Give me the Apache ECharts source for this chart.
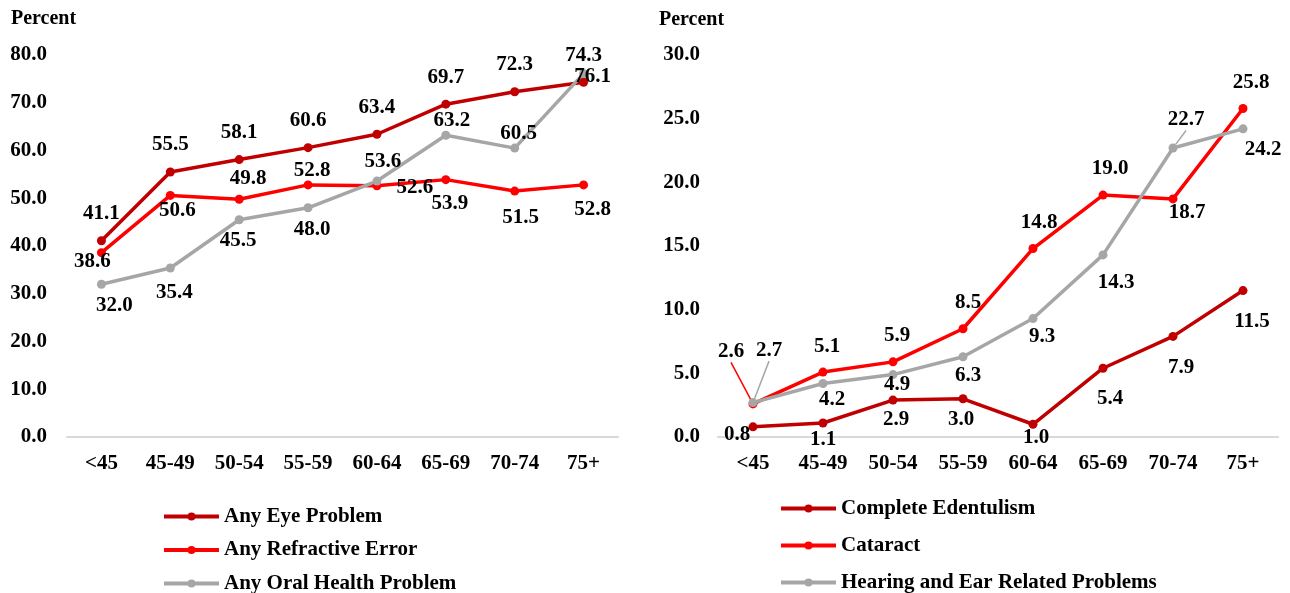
<!DOCTYPE html>
<html><head><meta charset="utf-8">
<script src="https://cdn.jsdelivr.net/npm/echarts@6/dist/echarts.min.js"></script>
<style>html,body{margin:0;padding:0;background:#fff}#c{width:1290px;height:593px}</style>
</head><body><div id="c"></div>
<script>
const categories = ['<45','45-49','50-54','55-59','60-64','65-69','70-74','75+'];
const anyEyeProblem = [41.1, 55.5, 58.1, 60.6, 63.4, 69.7, 72.3, 74.3];
const anyRefractiveError = [38.6, 50.6, 49.8, 52.8, 52.6, 53.9, 51.5, 52.8];
const anyOralHealthProblem = [32.0, 35.4, 45.5, 48.0, 53.6, 63.2, 60.5, 76.1];
const completeEdentulism = [0.8, 1.1, 2.9, 3.0, 1.0, 5.4, 7.9, 11.5];
const cataract = [2.6, 5.1, 5.9, 8.5, 14.8, 19.0, 18.7, 25.8];
const hearingEar = [2.7, 4.2, 4.9, 6.3, 9.3, 14.3, 22.7, 24.2];
const leftTicks = [0, 80, 10];
const rightTicks = [0, 30, 5];

// label shifts (dx, dy) relative to each point
const eyeShift = [[0,-27],[0,-27],[0,-27],[0,-27],[0,-27],[0,-27],[0,-27],[0,-27]];
const refrShift = [[-9,9],[7,15],[9,-21],[4,-14],[38,2],[4,24],[6,26],[9,25]];
const oralShift = [[13,21],[4,25],[-1,21],[4,22],[6,-19],[6,-15],[4,-15],[9,3]];
const edenShift = [[-16,8],[0,17],[3,20],[-2,21],[3,13],[7,30],[8,31],[9,31]];
const catShift = [[-22,-52],[4,-25],[4,-26],[5,-26],[6,-26],[7,-26],[14,14],[8,-26]];
const hearShift = [[16,-52],[9,16],[4,10],[5,19],[9,18],[13,28],[13,-28],[20,21]];
const leaderLines = {4: [0], 5: [0, 6]};

const FONT = "'Liberation Serif','Times New Roman',serif";
const FS = 21;
const shifts = [eyeShift, refrShift, oralShift, edenShift, catShift, hearShift];

function mkSeries(name, data, color, idx, gi) {
  const lead = leaderLines[idx] || [];
  return {
    name, type: 'line', xAxisIndex: gi, yAxisIndex: gi,
    data: data.map((v, i) => lead.includes(i) ? {value: v, labelLine: {show: true, lineStyle: {color: color, width: 1.5}}} : v),
    symbol: 'circle', symbolSize: 9,
    lineStyle: {color, width: 3.5}, itemStyle: {color},
    label: {show: true, position: 'inside', formatter: p => p.value.toFixed(1),
      fontFamily: FONT, fontWeight: 'bold', fontSize: FS, color: '#000'},
    labelLine: {show: false},
    labelLayout: p => ({dx: shifts[idx][p.dataIndex][0], dy: shifts[idx][p.dataIndex][1]}),
    animation: false
  };
}

const axisLab = {fontFamily: FONT, fontWeight: 'bold', fontSize: FS, color: '#000'};
const legText = {fontFamily: FONT, fontWeight: 'bold', fontSize: FS, color: '#000', lineHeight: 20, padding: [0,0,0,0]};
const chart = echarts.init(document.getElementById('c'));
chart.setOption({
  animation: false,
  title: [
    {text: 'Percent', left: 11, top: 9, padding: 0, textStyle: {fontFamily: FONT, fontWeight: 'bold', fontSize: 20, color: '#000'}},
    {text: 'Percent', left: 659, top: 10, padding: 0, textStyle: {fontFamily: FONT, fontWeight: 'bold', fontSize: 20, color: '#000'}}
  ],
  grid: [
    {left: 67, right: 672, top: 55, bottom: 156},
    {left: 718, right: 12, top: 55, bottom: 156}
  ],
  xAxis: [0, 1].map(g => ({type: 'category', gridIndex: g, data: categories, boundaryGap: true,
    axisLine: {lineStyle: {color: '#D9D9D9', width: 2}}, axisTick: {show: false},
    axisLabel: Object.assign({margin: 16, interval: 0}, axisLab)})),
  yAxis: [leftTicks, rightTicks].map((t, g) => ({type: 'value', gridIndex: g, min: t[0], max: t[1], interval: t[2],
    axisLine: {show: false}, axisTick: {show: false}, splitLine: {show: false},
    axisLabel: Object.assign({margin: g === 0 ? 20 : 18, formatter: v => v.toFixed(1)}, axisLab)})),
  legend: [
    {orient: 'vertical', left: 162, top: 506, height: 120, padding: 0, itemWidth: 55, itemHeight: 10, itemGap: 12.5,
     lineStyle: {width: 4}, itemStyle: {borderWidth: 0},
     data: ['Any Eye Problem', 'Any Refractive Error', 'Any Oral Health Problem'], textStyle: legText},
    {orient: 'vertical', left: 779, top: 498, height: 120, padding: 0, itemWidth: 55, itemHeight: 10, itemGap: 16,
     lineStyle: {width: 4}, itemStyle: {borderWidth: 0},
     data: ['Complete Edentulism', 'Cataract', 'Hearing and Ear Related Problems'], textStyle: legText}
  ],
  series: [
    mkSeries('Any Eye Problem', anyEyeProblem, '#C00000', 0, 0),
    mkSeries('Any Refractive Error', anyRefractiveError, '#FF0000', 1, 0),
    mkSeries('Any Oral Health Problem', anyOralHealthProblem, '#A6A6A6', 2, 0),
    mkSeries('Complete Edentulism', completeEdentulism, '#C00000', 3, 1),
    mkSeries('Cataract', cataract, '#FF0000', 4, 1),
    mkSeries('Hearing and Ear Related Problems', hearingEar, '#A6A6A6', 5, 1)
  ]
});
</script></body></html>
